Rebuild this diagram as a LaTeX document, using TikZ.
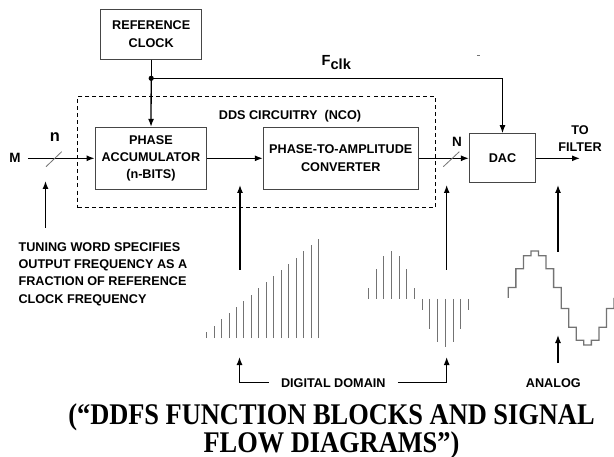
\documentclass[tikz,border=0pt]{standalone}
\usepackage{fontspec}
\setmainfont{Liberation Sans}
\newfontfamily\titlefont[FakeStretch=0.88]{Liberation Serif}
\usepackage{tikz}
\usetikzlibrary{positioning, arrows.meta, calc}
\definecolor{framegray}{RGB}{70,70,70}
\definecolor{wavegray}{RGB}{115,115,115}

\begin{document}
\begin{tikzpicture}[x=0.03cm, y=-0.03cm,
    box/.style={rectangle, draw=framegray, line width=0.8pt, align=center, font=\fontsize{10.8}{14.8}\selectfont\bfseries},
    lbl/.style={inner sep=0pt, align=center, font=\fontsize{10.8}{14.8}\selectfont\bfseries},
    wire/.style={line width=1.1pt},
    arr/.style={wire, -{Latex[length=2.4mm, width=1.8mm]}},
    tick/.style={wavegray, line width=0.7pt},
    samp/.style={wavegray, line width=0.8pt},
    stair/.style={wavegray, line width=1.1pt}
]
\useasboundingbox (0,0) rectangle (614,457);

% blocks
\node[box, minimum width=3.03cm, minimum height=1.49cm] (refclk) at (151.2,34.2) {REFERENCE\\CLOCK};
\node[draw, line width=1pt, dash pattern=on 3.4pt off 2.6pt, minimum width=10.74cm, minimum height=3.33cm] (nco) at (256.7,152.2) {};
\node[lbl] (ncolabel) at (290,116.7) {DDS CIRCUITRY\ \ (NCO)};
\node[box, minimum width=3.35cm, minimum height=1.86cm] (phacc) at (150.9,158.3) {PHASE\\ACCUMULATOR\\(n-BITS)};
\node[box, minimum width=4.65cm, minimum height=1.85cm] (pta) at (340.8,158.3) {PHASE-TO-AMPLITUDE\\CONVERTER};
\node[box, minimum width=1.99cm, minimum height=1.48cm] (dac) at (502.5,158.3) {DAC};

% clock
\coordinate (clkdot) at (151.2,78.3);
\draw[wire] (refclk) -- (clkdot);
\draw[arr] (clkdot) -- (phacc);
\draw[arr] (clkdot) -| (dac);
\fill (clkdot) circle (2.6);
\node[inner sep=0pt, font=\fontsize{12.5}{14}\selectfont\bfseries] (fclk) at (336.3,62.5) {F\raisebox{-4pt}{clk}};
\draw[wavegray, line width=0.6pt] (476.8,55) -- (479.8,55);

% signal path
\node[lbl, font=\fontsize{11.5}{14}\selectfont\bfseries] (m) at (15,158.3) {M};
\draw[arr] (m.east) ++(7,0) -- (phacc.west);
\draw[tick] (46,166.7) -- (61.7,151.7);
\node[lbl, font=\fontsize{14}{16}\selectfont\bfseries] (n) at (55,137) {n};
\draw[arr] (phacc) -- (pta);
\draw[arr] (pta) -- (dac);
\draw[tick] (443.3,166.7) -- (459.3,151.7);
\node[lbl, font=\fontsize{11.5}{14}\selectfont\bfseries] (bigN) at (457,142) {N};
\coordinate (out) at (580,158.3);
\draw[arr] (dac) -- (out);
\node[lbl, above=5.5pt of out] (tofilter) {TO\\FILTER};

% pointers
\node[lbl, align=left, anchor=north west] (tuning) at (18.3,242) {TUNING WORD SPECIFIES\\OUTPUT FREQUENCY AS A\\FRACTION OF REFERENCE\\CLOCK FREQUENCY};
\coordinate (twfoot) at (45.5,228);
\coordinate (twtip) at (45.5,181);
\draw[arr] (twfoot) -- (twtip);
\coordinate (rampfoot) at (240,270);
\coordinate (ramptip) at (240,185);
\draw[arr] (rampfoot) -- (ramptip);
\coordinate (sinefoot) at (446.7,270);
\coordinate (sinetip) at (446.7,185);
\draw[arr] (sinefoot) -- (sinetip);
\coordinate (stairfoot) at (558,252);
\coordinate (stairtip) at (558,185);
\draw[arr] (stairfoot) -- (stairtip);

% waveforms
\foreach \i in {0,...,15}
  \draw[samp] ({206.7+7.45*\i},338) -- ({206.7+7.45*\i},{331.7-6.18*\i});
\foreach \k in {0,...,13}
  \draw[samp] ({368.3+7.7*\k},299) -- ++(0,{-47.5*sin((\k+0.5)*180/7)});
\draw[stair] (508.3,298) \foreach \k in {0,...,13}{
  -- ({508.3+7.55*\k},{298-47*sin((\k+0.5)*180/7)})
  -- ({508.3+7.55*(\k+1)},{298-47*sin((\k+0.5)*180/7)}) } -- (614,298);

% domains
\node[lbl] (digital) at (333.3,382.7) {DIGITAL DOMAIN};
\coordinate (dl) at (239.5,357);
\coordinate (dr) at (446.7,357);
\draw[arr] (digital.west) ++(-12,0) -| (dl);
\draw[arr] (digital.east) ++(12,0) -| (dr);
\node[lbl] (analog) at (553.3,382.7) {ANALOG};
\coordinate (anfoot) at (558,363);
\coordinate (antip) at (558,335);
\draw[arr] (anfoot) -- (antip);

% caption
\node[anchor=base, inner sep=0pt, font=\titlefont\bfseries\fontsize{25.6}{23.5}\selectfont] (title) at (331.5,424.5) {(“DDFS FUNCTION BLOCKS AND SIGNAL};
\node[anchor=base, inner sep=0pt, font=\titlefont\bfseries\fontsize{25.6}{23.5}\selectfont] (title2) at (331.5,452) {FLOW DIAGRAMS”)};
\end{tikzpicture}
\end{document}
